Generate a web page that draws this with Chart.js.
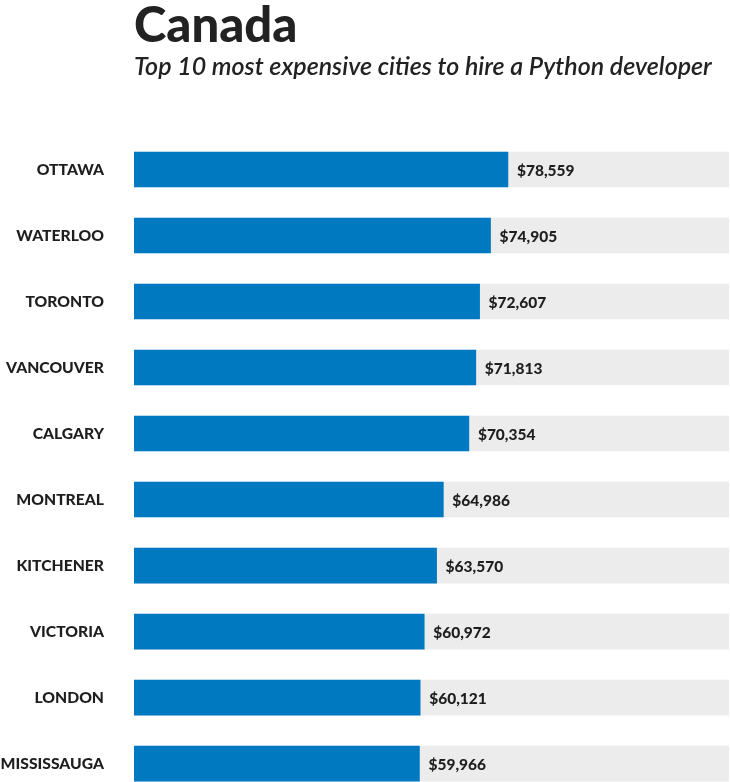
<!DOCTYPE html>
<html>
<head>
<meta charset="utf-8">
<script src="https://cdn.jsdelivr.net/npm/chart.js@4/dist/chart.umd.min.js"></script>
<style>
  html, body { margin: 0; padding: 0; background: #fff; overflow: hidden; }
  canvas { position: absolute; left: 0; top: 0; }
</style>
</head>
<body>
<canvas id="myChart" width="730" height="836"></canvas>
<script>
// Chart data
const cities = ['OTTAWA', 'WATERLOO', 'TORONTO', 'VANCOUVER', 'CALGARY',
    'MONTREAL', 'KITCHENER', 'VICTORIA', 'LONDON', 'MISSISSAUGA'];
const salaries = [78559, 74905, 72607, 71813, 70354, 64986, 63570, 60972, 60121, 59966];
const axisMax = 125000;
const trackValues = cities.map(() => axisMax);

// value labels to the right of each blue bar
const valueLabels = {
    id: 'valueLabels',
    afterDatasetsDraw(chart) {
        const ctx = chart.ctx;
        const meta = chart.getDatasetMeta(0);
        ctx.save();
        ctx.font = '900 15.5px Lato';
        ctx.fillStyle = '#1e1e1e';
        ctx.textAlign = 'left';
        ctx.textBaseline = 'middle';
        meta.data.forEach((bar, i) => {
            ctx.fillText('$' + salaries[i].toLocaleString('en-US'), bar.x + 9, bar.y + 1);
        });
        ctx.restore();
    }
};

const ctx = document.getElementById('myChart').getContext('2d');
const myChart = new Chart(ctx, {
    type: 'bar',
    data: {
        labels: cities,
        datasets: [{
            data: salaries,
            backgroundColor: '#0079c1',
            barThickness: 35,
            grouped: false
        }, {
            data: trackValues,
            backgroundColor: '#ececec',
            barThickness: 35,
            grouped: false
        }]
    },
    options: {
        indexAxis: 'y',
        responsive: false,
        animation: false,
        layout: { padding: { right: 1, bottom: 3.5 } },
        plugins: {
            legend: { display: false },
            tooltip: { enabled: false },
            title: {
                display: true,
                text: 'Canada',
                align: 'start',
                fullSize: false,
                color: '#222',
                font: { family: 'Lato', size: 49, weight: 900, lineHeight: 1 },
                padding: { top: 2, bottom: 0 }
            },
            subtitle: {
                display: true,
                text: 'Top 10 most expensive cities to hire a Python developer',
                align: 'start',
                fullSize: false,
                color: '#222',
                font: { family: 'Lato', size: 25, style: 'italic', weight: 600, lineHeight: 1.2 },
                padding: { top: 1, bottom: 54.5 }
            }
        },
        scales: {
            x: { display: false, min: 0, max: axisMax },
            y: {
                afterFit(scale) { scale.width = 134; },
                grid: { display: false, drawTicks: false },
                border: { display: false },
                ticks: {
                    padding: 30,
                    color: '#1e1e1e',
                    font: { family: 'Lato', size: 15.7, weight: 900 }
                }
            }
        }
    },
    plugins: [valueLabels]
});
</script>
</body>
</html>
